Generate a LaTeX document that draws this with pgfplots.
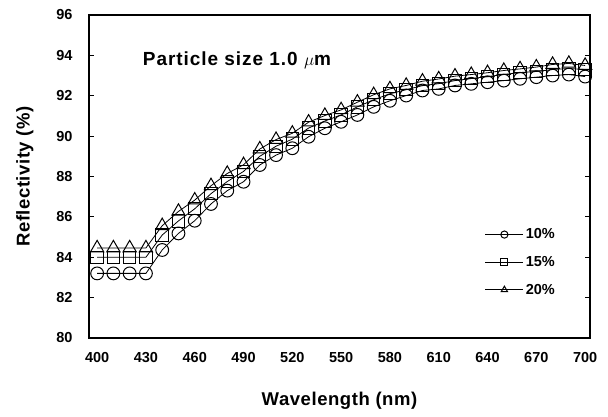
\documentclass[border=0pt]{standalone}
\usepackage{pgfplots}
\pgfplotsset{compat=1.18}
\usepackage{pgfplotstable}
\usepackage{fontspec}
\setmainfont{Liberation Sans}

% wavelength (nm) vs reflectivity (%) for three loadings
\pgfplotstableread{
wl   r10    r15    r20
400  83.20  84.00  84.46
410  83.20  84.00  84.46
420  83.20  84.00  84.46
430  83.20  84.00  84.46
440  84.36  85.10  85.56
450  85.18  85.80  86.27
460  85.81  86.40  86.83
470  86.64  87.15  87.54
480  87.30  87.75  88.15
490  87.74  88.25  88.58
500  88.57  89.00  89.36
510  89.06  89.50  89.83
520  89.40  89.85  90.14
530  89.97  90.40  90.69
540  90.39  90.75  91.02
550  90.71  91.05  91.30
560  91.05  91.45  91.68
570  91.45  91.80  92.05
580  91.75  92.10  92.34
590  92.01  92.30  92.51
600  92.26  92.50  92.72
610  92.34  92.60  92.83
620  92.51  92.75  92.97
630  92.59  92.85  93.05
640  92.67  92.95  93.14
650  92.75  93.05  93.25
660  92.84  93.15  93.33
670  92.92  93.20  93.42
680  93.00  93.30  93.55
690  93.05  93.35  93.60
700  92.95  93.30  93.50
}\data

\newcommand{\lblfont}{\fontsize{18.5}{21}\selectfont\bfseries\addfontfeature{LetterSpace=3}}

\begin{document}
\begin{tikzpicture}
\begin{axis}[
  scale only axis,
  width=501pt, height=323pt,
  xmin=395, xmax=703,
  ymin=80, ymax=96,
  xtick={400,430,...,700},
  ytick={80,82,...,96},
  tick align=inside,
  major tick length=5pt,
  xtick style={draw=none},
  ytick pos=both,
  axis line style={line width=1.8pt},
  tick style={line width=1.2pt, black},
  /pgf/number format/assume math mode=true,
  tick label style={font=\fontsize{14.5}{16}\selectfont\bfseries},
  xticklabel style={yshift=-11pt},
  yticklabel style={xshift=-13pt},
  xlabel={Wavelength (nm)},
  ylabel={Reflectivity (\%)},
  label style={font=\lblfont},
  xlabel style={yshift=-22pt},
  ylabel style={yshift=16pt},
  legend style={draw=none, fill=none, at={(0.79,0.345)}, anchor=north west,
    font=\fontsize{14.5}{16}\selectfont\bfseries, row sep=12pt,
    inner sep=0pt},
  legend cell align=left,
  legend image code/.code={
    \draw[#1,mark=none] (0pt,0pt) -- (38pt,0pt);
    \draw[#1,only marks,mark size=3.6pt] plot coordinates {(19pt,0pt)};
  },
]
\addplot[black, line width=0.8pt, mark=o, mark size=6.4pt,
  mark options={fill=white, line width=1pt}] table[x=wl, y=r10] {\data};
\addlegendentry{10\%}
\addplot[black, line width=0.8pt, mark=square, mark size=6.2pt,
  mark options={fill=white, line width=1pt}] table[x=wl, y=r15] {\data};
\addlegendentry{15\%}
\addplot[black, line width=0.8pt, mark=triangle, mark size=7.6pt,
  mark options={fill=white, line width=1pt}] table[x=wl, y=r20] {\data};
\addlegendentry{20\%}
\node[anchor=west, font=\fontsize{19}{22}\selectfont\bfseries\addfontfeature{LetterSpace=5}]
  at (axis cs:426,93.77) {Particle size 1.0 $\mu$m};
\end{axis}
\pgfresetboundingbox
\path[use as bounding box] (current axis.south west) ++(-89pt,-79pt)
  rectangle ([xshift=18pt,yshift=15pt]current axis.north east);
\end{tikzpicture}
\end{document}
